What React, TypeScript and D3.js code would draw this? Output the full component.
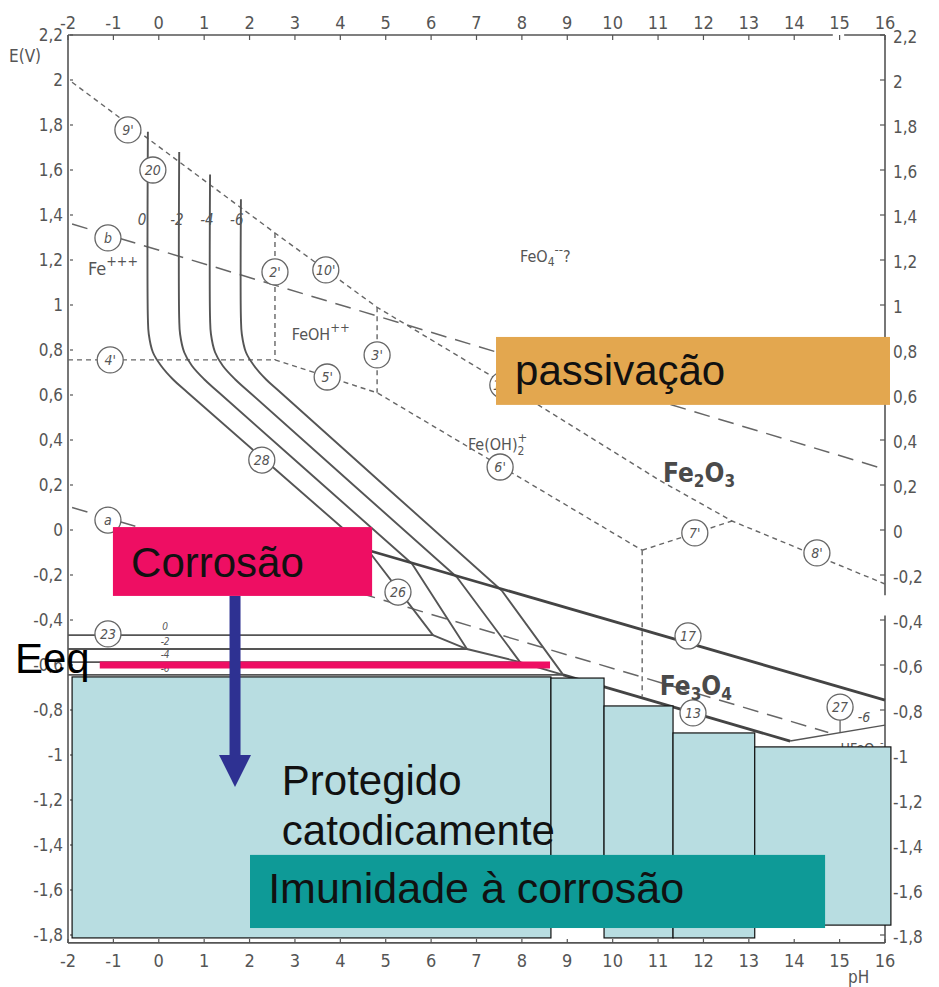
import * as d3 from "d3";

const W = 939;
const H = 987;

// axis ticks
const phTicks = [-2, -1, 0, 1, 2, 3, 4, 5, 6, 7, 8, 9, 10, 11, 12, 13, 14, 15, 16];
const eTicks = [2.2, 2, 1.8, 1.6, 1.4, 1.2, 1, 0.8, 0.6, 0.4, 0.2, 0, -0.2, -0.4, -0.6, -0.8, -1, -1.2, -1.4, -1.6, -1.8];

// Fe++ / Fe2O3 boundaries for log[Fe] = 0, -2, -4, -6 (pH, E)
const feCurve0 = [[-0.24, 1.77], [-0.24, 0.94], [-0.22, 0.87], [-0.13, 0.79], [0.05, 0.73], [0.31, 0.67], [0.64, 0.61], [4.61, -0.09]];
const feCurve2 = [[0.45, 1.68], [0.45, 0.94], [0.47, 0.87], [0.56, 0.79], [0.73, 0.73], [1.0, 0.67], [1.33, 0.61], [5.58, -0.15]];
const feCurve4 = [[1.13, 1.58], [1.13, 0.94], [1.15, 0.87], [1.24, 0.79], [1.41, 0.73], [1.68, 0.67], [2.01, 0.61], [6.57, -0.21]];
const feCurve6 = [[1.81, 1.47], [1.81, 0.94], [1.83, 0.87], [1.92, 0.79], [2.1, 0.73], [2.36, 0.67], [2.69, 0.61], [7.56, -0.27]];

// Fe++ / Fe3O4 (26) then Fe / Fe++ (23)
const fe26_0 = [[4.61, -0.09], [6.04, -0.467], [-2, -0.467]];
const fe26_2 = [[5.58, -0.15], [6.79, -0.529], [-2, -0.529]];
const fe26_4 = [[6.57, -0.21], [7.96, -0.587], [-2, -0.587]];
const fe26_6 = [[7.56, -0.27], [8.91, -0.644], [-2, -0.644]];

// thick boundaries
const line17 = [[4.61, -0.09], [16, -0.756]];
const line13a = [[6.04, -0.467], [6.79, -0.529], [7.96, -0.587], [8.91, -0.644]];
const line13 = [[8.91, -0.644], [13.91, -0.938]];
const line27 = [[13.91, -0.938], [16, -0.867]];

// dashed boundaries of dissolved species
const line9 = [[-1.91, 1.99], [2.56, 1.32], [4.81, 0.99], [7.45, 0.67], [11.04, 0.22], [12.63, 0.04], [16, -0.24]];
const line4 = [[-2, 0.756], [2.56, 0.756]];
const line2v = [[2.56, 1.32], [2.56, 0.756]];
const line56 = [[2.56, 0.756], [4.81, 0.61], [10.65, -0.09]];
const line3v = [[4.81, 0.99], [4.81, 0.61]];
const line7 = [[10.65, -0.09], [12.63, 0.04]];
const lineV = [[10.65, -0.09], [10.65, -0.74]];
const lineA = [[-1.91, 0.1], [14.75, -0.9]];
const lineB = [[-1.91, 1.36], [16, 0.27]];

const circleLabels = [
  { t: "9'", ph: -0.68, e: 1.778 }, { t: "20", ph: -0.13, e: 1.6 }, { t: "b", ph: -1.12, e: 1.298 },
  { t: "2'", ph: 2.56, e: 1.147 }, { t: "10'", ph: 3.68, e: 1.156 }, { t: "4'", ph: -1.07, e: 0.756 },
  { t: "3'", ph: 4.81, e: 0.778 }, { t: "5'", ph: 3.71, e: 0.68 }, { t: "11'", ph: 7.58, e: 0.644 },
  { t: "28", ph: 2.27, e: 0.311 }, { t: "6'", ph: 7.52, e: 0.28 }, { t: "a", ph: -1.12, e: 0.044 },
  { t: "7'", ph: 11.81, e: -0.013 }, { t: "8'", ph: 14.5, e: -0.102 }, { t: "26", ph: 5.27, e: -0.276 },
  { t: "23", ph: -1.12, e: -0.462 }, { t: "17", ph: 11.66, e: -0.471 }, { t: "13", ph: 11.77, e: -0.813 },
  { t: "27", ph: 15.01, e: -0.787 },
];

const concTop = [{ t: "0", ph: -0.37 }, { t: "-2", ph: 0.4 }, { t: "-4", ph: 1.06 }, { t: "-6", ph: 1.72 }];
const concLow = [{ t: "0", e: -0.444 }, { t: "-2", e: -0.511 }, { t: "-4", e: -0.569 }, { t: "-6", e: -0.631 }];

// overlay boxes [pH0, pH1, Etop, Ebottom]
const protectBoxes = [
  [-1.91, 8.64, -0.653, -1.813],
  [8.64, 9.81, -0.658, -1.76],
  [9.81, 11.33, -0.782, -1.813],
  [11.33, 13.13, -0.902, -1.813],
  [13.13, 16.13, -0.964, -1.756],
];
const passBox = [7.43, 16.11, 0.858, 0.556];
const corrBox = [-1.01, 4.7, 0.013, -0.293];
const immBox = [2.01, 14.68, -1.444, -1.769];
const eeqLine = [[-1.3, -0.6], [8.62, -0.6]];
const arrowLine = [[1.68, -0.293], [1.68, -1.142]];

const x = d3.scaleLinear().domain([-2, 16]).range([68, 885]);
const y = d3.scaleLinear().domain([2.2, -1.8]).range([35, 935]);
const line = d3.line<number[]>().x((d) => x(d[0])).y((d) => y(d[1]));
const curve = d3.line<number[]>().x((d) => x(d[0])).y((d) => y(d[1])).curve(d3.curveCatmullRom.alpha(0.5));

const fmt = (v: number) => String(v).replace(".", ",");

const INK = "#555";
const SCAN = "'DejaVu Sans Condensed', 'Liberation Sans Narrow', sans-serif";
const SANS = "'Liberation Sans', Arial, sans-serif";

function Rect({ b, fill, stroke }: { b: number[]; fill: string; stroke?: string }) {
  return (
    <rect
      x={x(b[0])}
      y={y(b[2])}
      width={x(b[1]) - x(b[0])}
      height={y(b[3]) - y(b[2])}
      fill={fill}
      stroke={stroke || "none"}
      strokeWidth={1.2}
    />
  );
}

export default function App() {
  const yBottom = y(-1.835);
  const tip = arrowLine[1];
  return (
    <svg width={W} height={H} style={{ position: "absolute", left: 0, top: 0, background: "#fff" }}>
      {/* axes */}
      <g stroke={INK} strokeWidth={1.6} fill="none">
        <line x1={x(-2)} y1={y(2.2)} x2={x(-2)} y2={yBottom} />
        <line x1={x(-2)} y1={y(2.2)} x2={x(14.85)} y2={y(2.2)} />
        <line x1={x(15.1)} y1={y(2.2)} x2={x(16)} y2={y(2.2)} />
        <line x1={x(-2)} y1={yBottom} x2={x(16)} y2={yBottom} />
        <line x1={x(16)} y1={y(2.2)} x2={x(16)} y2={y(-0.29)} />
        <line x1={x(16)} y1={y(-0.38)} x2={x(16)} y2={yBottom} />
      </g>
      <g stroke={INK} strokeWidth={1.2}>
        {phTicks.map((p) => (
          <g key={p}>
            <line x1={x(p)} x2={x(p)} y1={y(2.2)} y2={y(2.2) + 5} />
            <line x1={x(p)} x2={x(p)} y1={yBottom} y2={yBottom - 4} />
          </g>
        ))}
        {eTicks.map((e) => (
          <g key={e}>
            <line x1={x(-2) + 2} x2={x(-2) + 5} y1={y(e)} y2={y(e)} />
            <line x1={x(16) - 5} x2={x(16)} y1={y(e)} y2={y(e)} />
          </g>
        ))}
      </g>
      <g fill={INK} fontFamily={SCAN} fontSize={17}>
        {phTicks.map((p) => (
          <g key={p}>
            <text x={x(p)} y={29} textAnchor="middle" fontSize={18}>{p}</text>
            <text x={x(p)} y={967} textAnchor="middle" fontSize={18}>{p}</text>
          </g>
        ))}
        {eTicks.map((e) => (
          <g key={e}>
            <text x={63} y={y(e) + 6} textAnchor="end">{fmt(e)}</text>
            <text x={893} y={y(e) + 8} textAnchor="start">{fmt(e)}</text>
          </g>
        ))}
        <text x={9} y={62} fontSize={17}>E(V)</text>
        <text x={848} y={983} fontSize={17}>pH</text>
      </g>

      {/* dashed lines */}
      <g fill="none" stroke="#666" strokeWidth={1.4} strokeDasharray="5 4">
        {[line9, line4, line2v, line56, line3v, line7, lineV].map((d, i) => (
          <path key={i} d={line(d) || ""} />
        ))}
      </g>
      <g fill="none" stroke="#666" strokeWidth={1.5} strokeDasharray="16 9">
        <path d={line(lineA) || ""} />
        <path d={line(lineB) || ""} />
      </g>

      {/* solid boundaries */}
      <g fill="none" stroke="#555" strokeWidth={1.9}>
        {[feCurve0, feCurve2, feCurve4, feCurve6].map((d, i) => (
          <path key={i} d={curve(d) || ""} />
        ))}
        {[fe26_0, fe26_2, fe26_4, fe26_6].map((d, i) => (
          <path key={i} d={line(d) || ""} />
        ))}
        <path d={line(line13a) || ""} />
        <path d={line(line27) || ""} strokeWidth={1.4} />
        <line x1={x(15.01)} x2={x(15.01)} y1={y(-0.787) + 13} y2={y(-0.9)} strokeWidth={1.2} />
      </g>
      <g fill="none" stroke="#444" strokeWidth={2.8}>
        <path d={line(line17) || ""} />
        <path d={line(line13) || ""} />
      </g>

      {/* numbered circles */}
      <g fontFamily={SCAN} fontStyle="italic" fontSize={14} fill={INK}>
        {circleLabels.map((c) => (
          <g key={c.t} transform={`translate(${x(c.ph)},${y(c.e)})`}>
            <circle r={13} fill="#fff" stroke="#666" strokeWidth={1.3} />
            <text y={5} textAnchor="middle">{c.t}</text>
          </g>
        ))}
        {concTop.map((c) => (
          <text key={c.t} x={x(c.ph)} y={y(1.356)} textAnchor="middle" fontSize={15}>{c.t}</text>
        ))}
        {concLow.map((c) => (
          <text key={c.t} x={x(0.14)} y={y(c.e)} textAnchor="middle" fontSize={10}>{c.t}</text>
        ))}
        <text x={x(15.4)} y={y(-0.853)} fontSize={14}>-6</text>
      </g>

      {/* species labels */}
      <g fontFamily={SCAN} fill={INK} fontSize={16}>
        <text x={x(-1.56)} y={y(1.133)} fontSize={18}>
          Fe<tspan dy={-9} fontSize={14}>+++</tspan>
        </text>
        <text x={x(2.93)} y={y(0.844)} fontSize={16}>
          FeOH<tspan dy={-8} fontSize={13}>++</tspan>
        </text>
        <text x={x(7.96)} y={y(1.191)} fontSize={16}>
          FeO<tspan dy={4} fontSize={12}>4</tspan>
          <tspan dy={-12} fontSize={13}>--</tspan>
          <tspan dy={8}>?</tspan>
        </text>
        <text x={x(6.81)} y={y(0.356)} fontSize={16}>
          Fe(OH)<tspan dy={5} fontSize={12}>2</tspan>
          <tspan dx={-7} dy={-13} fontSize={13}>+</tspan>
        </text>
        <text x={x(11.11)} y={y(0.213)} fontSize={26} fontWeight="bold" fill="#4a4a4a">
          Fe<tspan dy={5} fontSize={17}>2</tspan>
          <tspan dy={-5}>O</tspan>
          <tspan dy={5} fontSize={17}>3</tspan>
        </text>
        <text x={x(11.04)} y={y(-0.733)} fontSize={26} fontWeight="bold" fill="#4a4a4a">
          Fe<tspan dy={5} fontSize={17}>3</tspan>
          <tspan dy={-5}>O</tspan>
          <tspan dy={5} fontSize={17}>4</tspan>
        </text>
        <text x={x(15.02)} y={y(-0.99)} fontSize={14}>
          HFeO<tspan dy={3} fontSize={10}>2</tspan>
          <tspan dy={-10} fontSize={11}>-</tspan>
        </text>
      </g>

      {/* overlays */}
      <Rect b={passBox} fill="#E3A74F" />
      <text x={x(7.85)} y={y(0.644)} fontFamily={SANS} fontSize={42} fill="#111">passivação</text>
      <Rect b={corrBox} fill="#EE0E63" />
      <text x={x(-0.61)} y={y(-0.209)} fontFamily={SANS} fontSize={42} fill="#111">Corrosão</text>
      {protectBoxes.map((b, i) => (
        <Rect key={i} b={b} fill="#B8DDE1" stroke="#111" />
      ))}
      <Rect b={immBox} fill="#0E9A97" />
      <text x={x(2.41)} y={y(-1.658)} fontFamily={SANS} fontSize={43} fill="#111">Imunidade à corrosão</text>
      <text x={x(2.71)} y={y(-1.178)} fontFamily={SANS} fontSize={42} fill="#111">Protegido</text>
      <text x={x(2.71)} y={y(-1.4)} fontFamily={SANS} fontSize={42} fill="#111">catodicamente</text>
      <path d={line(eeqLine) || ""} stroke="#EE0E63" strokeWidth={7} fill="none" />
      <text x={x(-3.17)} y={y(-0.636)} fontFamily={SANS} fontSize={42} fill="#000">Eeq</text>
      <line
        x1={x(arrowLine[0][0])}
        x2={x(tip[0])}
        y1={y(arrowLine[0][1])}
        y2={y(tip[1]) - 28}
        stroke="#2E3192"
        strokeWidth={11}
      />
      <path
        d={`M${x(tip[0]) - 16},${y(tip[1]) - 32} L${x(tip[0]) + 16},${y(tip[1]) - 32} L${x(tip[0])},${y(tip[1])} Z`}
        fill="#2E3192"
      />
    </svg>
  );
}
